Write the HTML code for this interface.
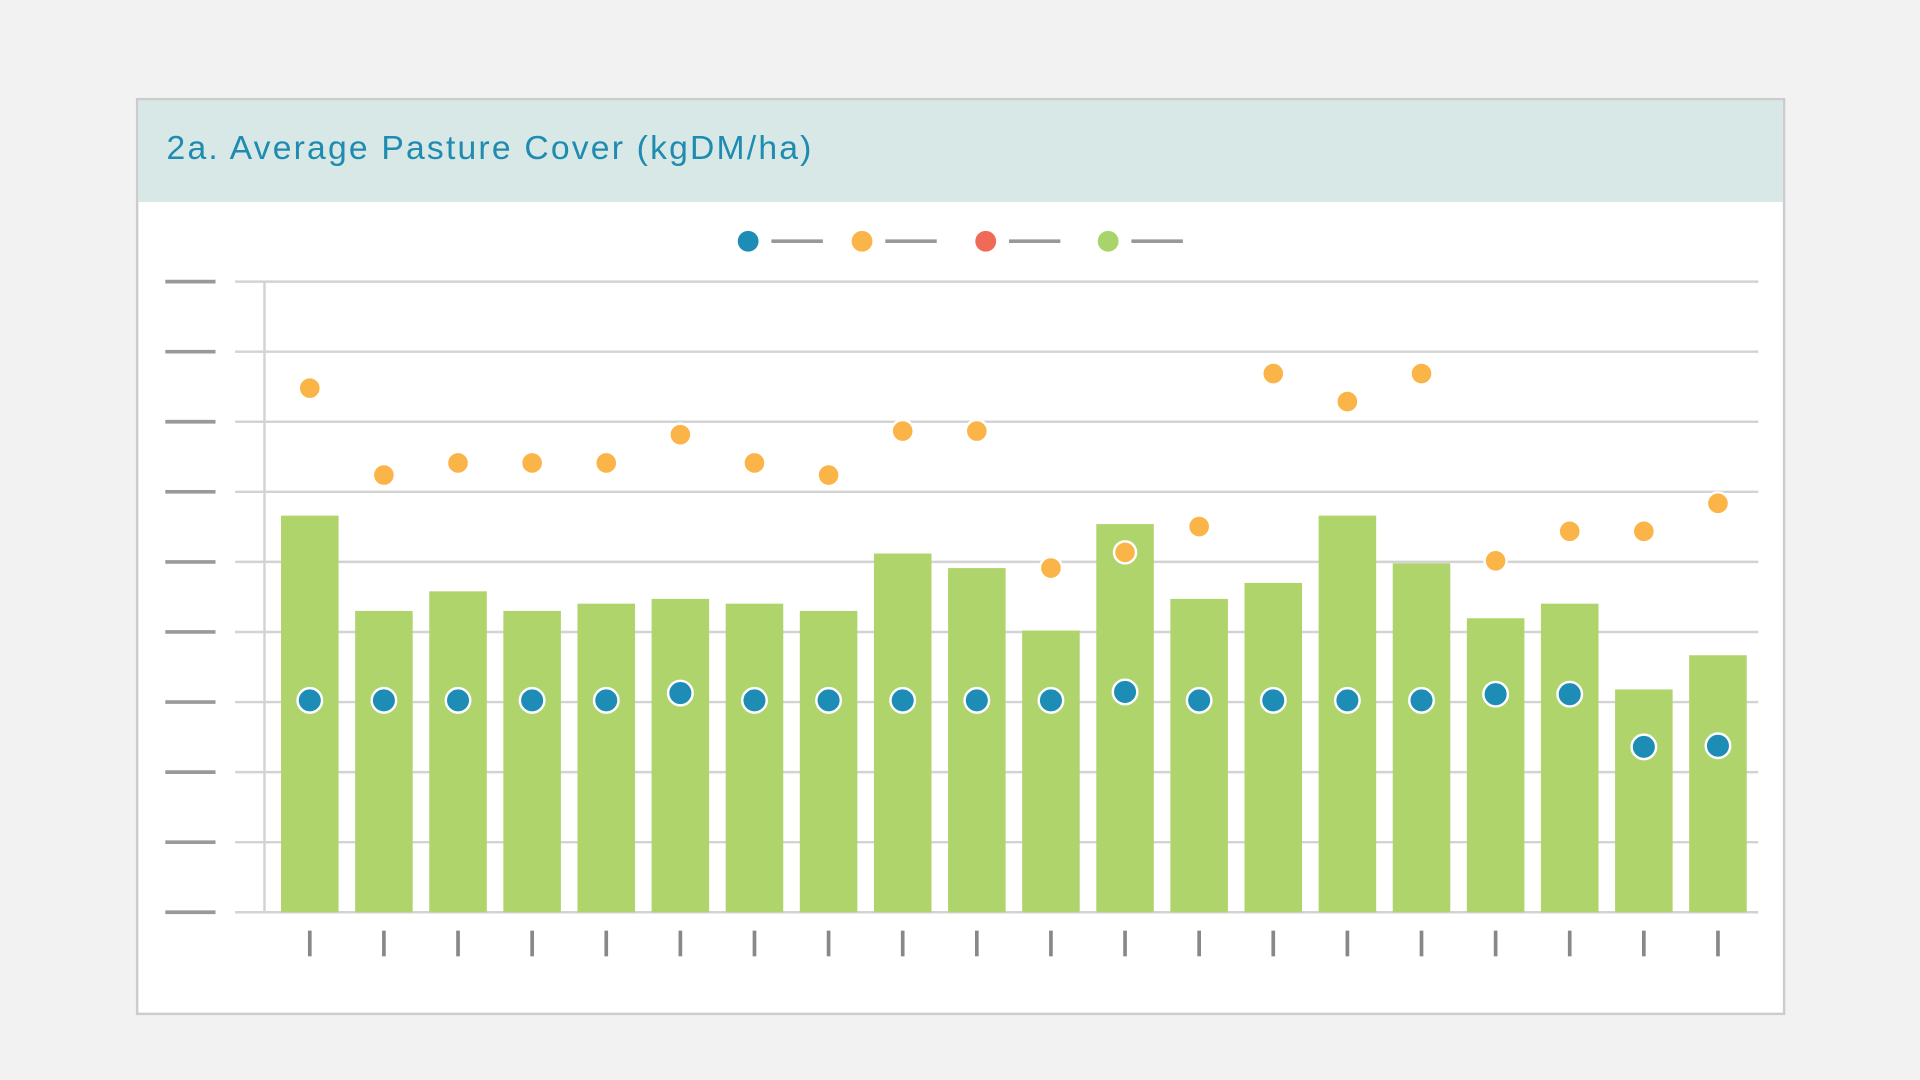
<!DOCTYPE html>
<html><head><meta charset="utf-8"><style>
html,body{margin:0;padding:0;background:#f2f2f2;width:1920px;height:1080px;overflow:hidden}
svg{display:block}
</style></head><body>
<svg id="chart" width="1920" height="1080" viewBox="0 0 1568 882" preserveAspectRatio="none" xmlns="http://www.w3.org/2000/svg">
<rect x="0" y="0" width="1568" height="882" fill="#f2f2f2"/>
<rect x="112" y="81" width="1345" height="747" fill="#fff" stroke="#cccccc" stroke-width="2"/>
<rect x="113" y="82" width="1343" height="83" fill="#d7e8e6"/>
<text x="136" y="130" font-family="Liberation Sans, sans-serif" font-size="27.5" letter-spacing="1.8" fill="#1f8bb0">2a. Average Pasture Cover (kgDM/ha)</text>
<g id="legend"></g>
<g id="grid"></g>
<g id="bars"></g>
<g id="dots"></g>
</svg>
<script>
const categories = ["1","2","3","4","5","6","7","8","9","10","11","12","13","14","15","16","17","18","19","20"];
const barValues = [1415,1075,1145,1075,1101,1118,1101,1075,1280,1228,1005,1385,1118,1175,1415,1245,1049,1101,795,917];
const blueValues = [756,756,756,756,756,782,756,756,756,756,756,786,756,756,756,756,778,778,590,594];
const orangeValues = [1870,1560,1603,1603,1603,1704,1603,1560,1717,1717,1228,1284,1376,1922,1822,1922,1254,1359,1359,1459];
const yTicks = [0,250,500,750,1000,1250,1500,1750,2000,2250];
const legendColors = ["#1e8db5","#fbb448","#ef6b57","#a8d46a"];

const NS="http://www.w3.org/2000/svg";
const y0=745, y1=230, yMax=2250;
function yScale(v){return y0-(v/yMax)*(y0-y1);}
function xScale(i){return 253+i*(1403-253)/(categories.length-1);}
function mk(tag,attrs,parent){const e=document.createElementNS(NS,tag);for(const k in attrs)e.setAttribute(k,attrs[k]);parent.appendChild(e);return e;}

const grid=document.getElementById('grid');
yTicks.forEach(t=>{
  const y=yScale(t);
  const g=mk('line',{x1:192,x2:1436,y1:y,y2:y,stroke:'#d3d3d3','stroke-width':2},grid);
  
  
  const tk=mk('line',{x1:135,x2:176,y1:y,y2:y,stroke:'#999','stroke-width':3},grid);
  
  
});
const ax=mk('line',{x1:216,x2:216,y1:230,y2:746,stroke:'#d3d3d3','stroke-width':2},grid);



const bars=document.getElementById('bars');
barValues.forEach((v,i)=>{
  const x=xScale(i), y=yScale(v);
  const r=mk('rect',{x:x-23.5,y:y,width:47,height:y0-y,fill:'#b0d46c'},bars);
  
  
  const t=mk('line',{x1:x,x2:x,y1:760,y2:781,stroke:'#888','stroke-width':3},bars);
  
  
});
const dots=document.getElementById('dots');
orangeValues.forEach((v,i)=>{
  const c=mk('circle',{cx:xScale(i),cy:yScale(v),r:9,fill:'#fbb448',stroke:'#fff','stroke-width':2},dots);
  
  
});
blueValues.forEach((v,i)=>{
  const c=mk('circle',{cx:xScale(i),cy:yScale(v),r:10,fill:'#1e8db5',stroke:'#fff','stroke-width':2},dots);
  
  
});
const legend=document.getElementById('legend');
const lx=[611,704,805,905];
legendColors.forEach((col,i)=>{
  const c=mk('circle',{cx:lx[i],cy:197,r:8.5,fill:col},legend);
  
  
  const l=mk('line',{x1:lx[i]+19,x2:lx[i]+61,y1:197,y2:197,stroke:'#999','stroke-width':3},legend);
  
  
});
</script>
</body></html>
